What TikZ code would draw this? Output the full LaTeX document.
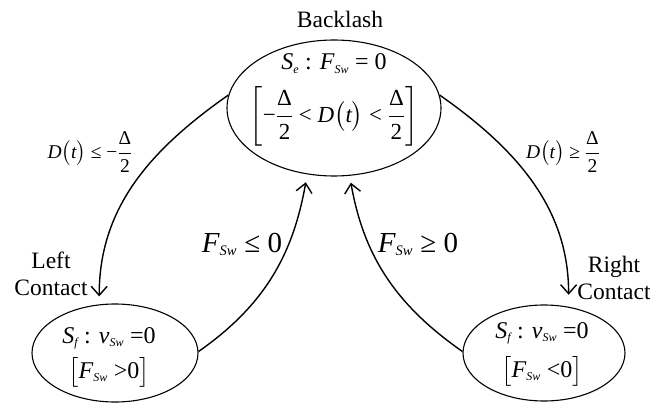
\documentclass[tikz,border=0pt]{standalone}
\usepackage{amsmath}
\usepackage{fontspec}
\setmainfont{Liberation Serif}
\usetikzlibrary{shapes.geometric,arrows.meta}
\newcommand{\mv}[1]{\text{\itshape #1}}
\newcommand{\sbs}[1]{_{\scriptscriptstyle\mv{#1}}}
\newcommand{\tx}[1]{\text{#1}}
\begin{document}
\begin{tikzpicture}[x=1pt,y=1pt,
  st/.style={draw, line width=1.1pt, ellipse, inner sep=0pt},
  arr/.style={line width=1.4pt, -{Straight Barb[length=9pt,width=16pt,line width=1.4pt]}},
  lbl/.style={inner sep=0pt, font=\fontsize{23.5}{27}\selectfont},
  cond/.style={inner sep=0pt, font=\fontsize{19.5}{23}\selectfont},
  big/.style={inner sep=0pt, font=\fontsize{29}{34}\selectfont},
  ea/.style={inner sep=0pt, font=\fontsize{24}{29}\selectfont},
  eb/.style={inner sep=0pt, font=\fontsize{23}{27}\selectfont},
]
\useasboundingbox (0,0) rectangle (650,-403);
% states
\node[st, minimum width=214pt, minimum height=136pt] (top) at (334,-108) {};
\node[st, minimum width=166pt, minimum height=98pt] (left) at (115,-353) {};
\node[st, minimum width=162pt, minimum height=96pt] (right) at (544,-353) {};
% state texts
\node[lbl, anchor=base] (tlab) at (340,-28) {Backlash};
\node[ea, anchor=base] (t1) at (334,-70) {$\mv{S}\sbs{e}\tx{ : }\mv{F}\sbs{Sw}\tx{ = 0}$};
\node[eb] (t2) at (334,-116) {$\left[\tx{−}\dfrac{\tx{Δ}}{\tx{2}}\tx{ < }\mv{D}\bigl(\mv{t}\bigr)\tx{ < }\dfrac{\tx{Δ}}{\tx{2}}\right]$};
\node[ea, anchor=base] (l1) at (109,-343) {$\mv{S}\sbs{f}\tx{ : }\mv{v}\sbs{Sw}\tx{ =0}$};
\node[ea] (l2) at (109,-372) {$\bigl[\mv{F}\sbs{Sw}\tx{ >0}\bigr]$};
\node[ea, anchor=base] (r1) at (542,-338) {$\mv{S}\sbs{f}\tx{ : }\mv{v}\sbs{Sw}\tx{ =0}$};
\node[ea] (r2) at (542,-371) {$\bigl[\mv{F}\sbs{Sw}\tx{ <0}\bigr]$};
\node[lbl, align=center] (llab) at (51,-274) {Left\\Contact};
\node[lbl, align=center] (rlab) at (614,-278) {Right\\Contact};
% transitions
\draw[arr, shorten >=8pt] (top.173) to[out=215,in=90] (left.108);
\draw[arr, shorten >=12pt] (top.7) to[out=-35,in=90] (right.62);
\draw[arr, shorten >=8pt] (left.1) to[out=35,in=260] (top.248);
\draw[arr, shorten >=7pt] (right.179) to[out=145,in=280] (top.283);
% transition labels
\node[cond] (c1) at (90,-152) {$\mv{D}\bigl(\mv{t}\bigr)\tx{ ≤ −}\dfrac{\tx{Δ}}{\tx{2}}$};
\node[cond] (c2) at (563,-152) {$\mv{D}\bigl(\mv{t}\bigr)\tx{ ≥ }\dfrac{\tx{Δ}}{\tx{2}}$};
\node[big, anchor=base] (c3) at (242,-252) {$\mv{F}\sbs{Sw}\tx{ ≤ 0}$};
\node[big, anchor=base] (c4) at (418,-252) {$\mv{F}\sbs{Sw}\tx{ ≥ 0}$};
\end{tikzpicture}
\end{document}
